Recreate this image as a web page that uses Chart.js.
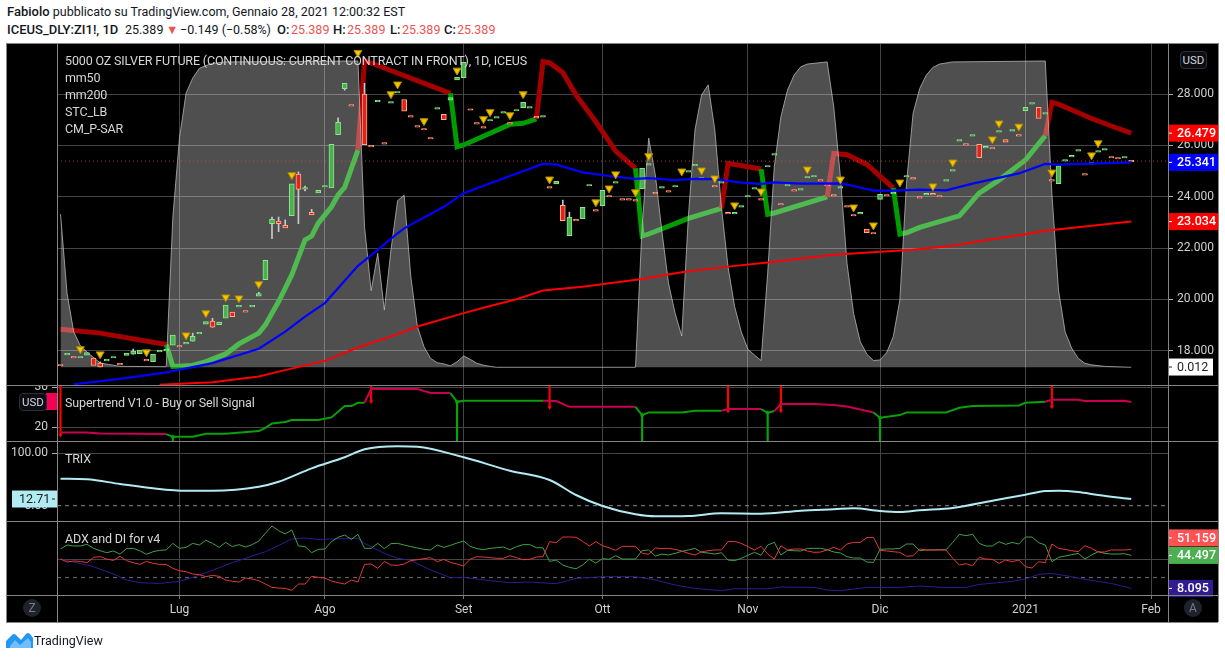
<!DOCTYPE html>
<html>
<head>
<meta charset="utf-8">
<script src="https://cdn.jsdelivr.net/npm/chart.js@4/dist/chart.umd.min.js"></script>
<style>
  html, body { margin: 0; padding: 0; background: #fff; }
  body { width: 1225px; height: 659px; position: relative; overflow: hidden; font-family: Roboto, sans-serif; }
  .abs { position: absolute; white-space: nowrap; }
  .head { font-size: 12.5px; line-height: 18px; color: #131722; }
  .head b { font-weight: 500; font-size: 13px; }
  .dn { color: #ef5350; }
  #frame { left: 6px; top: 43px; width: 1212px; height: 579px; background: #000; }
  canvas { position: absolute; left: 6px; }
  .sep { position: absolute; background: #858585; }
  .leg { font-size: 12.5px; letter-spacing: -0.15px; line-height: 17px; color: #d6d6d6; }
  .btn { font-size: 11.5px; color: #d1d4dc; background: #0b0d12; border: 1px solid #2a2e39; border-radius: 4px; text-align: center; }
  .round { width: 18px; height: 18px; line-height: 18px; border-radius: 9px; background: #1e222d; color: #787b86; font-size: 12px; text-align: center; }
</style>
</head>
<body>
<div class="abs head" style="left:7px;top:3px"><b>Fabiolo</b> pubblicato su TradingView.com, Gennaio 28, 2021 12:00:32 EST</div>
<div class="abs head" style="left:7px;top:21px"><b>ICEUS_DLY:ZI1!, 1D</b></div>
<div class="abs head" style="left:125px;top:21px">25.389</div>
<div class="abs head dn" style="left:166px;top:21px">▼</div>
<div class="abs head" style="left:180px;top:21px">−0.149 (−0.58%)</div>
<div class="abs head" style="left:277px;top:21px"><b>O:</b></div>
<div class="abs head dn" style="left:291px;top:21px">25.389</div>
<div class="abs head" style="left:333px;top:21px"><b>H:</b></div>
<div class="abs head dn" style="left:347px;top:21px">25.389</div>
<div class="abs head" style="left:390px;top:21px"><b>L:</b></div>
<div class="abs head dn" style="left:402px;top:21px">25.389</div>
<div class="abs head" style="left:444px;top:21px"><b>C:</b></div>
<div class="abs head dn" style="left:457px;top:21px">25.389</div>
<div class="abs" id="frame"></div>

<canvas id="mainPane" width="1212" height="341" style="top:44px"></canvas>
<canvas id="stPane" width="1212" height="56" style="top:385px"></canvas>
<canvas id="trixPane" width="1212" height="80" style="top:441px"></canvas>
<canvas id="adxPane" width="1212" height="101" style="top:521px"></canvas>

<div class="sep" style="left:6px;top:43px;width:1212px;height:1px"></div>
<div class="sep" style="left:6px;top:385px;width:1212px;height:1px"></div>
<div class="sep" style="left:6px;top:441px;width:1212px;height:1px"></div>
<div class="sep" style="left:6px;top:521px;width:1212px;height:1px"></div>
<div class="sep" style="left:6px;top:595px;width:1212px;height:1px"></div>
<div class="sep" style="left:6px;top:622px;width:1212px;height:1px"></div>
<div class="sep" style="left:6px;top:43px;width:1px;height:579px"></div>
<div class="sep" style="left:57px;top:43px;width:1px;height:579px"></div>
<div class="sep" style="left:1168px;top:43px;width:1px;height:579px"></div>
<div class="sep" style="left:1218px;top:43px;width:1px;height:579px"></div>

<div class="abs leg" style="left:65px;top:52px">5000 OZ SILVER FUTURE (CONTINUOUS: CURRENT CONTRACT IN FRONT), 1D, ICEUS</div>
<div class="abs leg" style="left:65px;top:69px">mm50</div>
<div class="abs leg" style="left:65px;top:86px">mm200</div>
<div class="abs leg" style="left:65px;top:103px">STC_LB</div>
<div class="abs leg" style="left:65px;top:120px">CM_P-SAR</div>
<div class="abs leg" style="left:65px;top:394px">Supertrend V1.0 - Buy or Sell Signal</div>
<div class="abs leg" style="left:65px;top:450px">TRIX</div>
<div class="abs leg" style="left:65px;top:530px">ADX and DI for v4</div>

<div class="abs btn" style="left:1180px;top:51px;width:25px;height:16px;line-height:16px">USD</div>
<div class="abs" style="left:46px;top:393px;width:11px;height:17px;background:#f50057"></div>
<div class="abs btn" style="left:19px;top:393px;width:26px;height:16px;line-height:16px">USD</div>
<div class="abs round" style="left:23px;top:599px">Z</div>
<div class="abs round" style="left:1184px;top:599px">A</div>

<svg class="abs" style="left:6px;top:632px" width="27" height="16" viewBox="0 0 27 16">
  <path d="M0 9 L6 3 Q8 1 10 3 L15 8 L20 2 Q22 0 24 2 L27 6 L27 16 L0 16 Z" fill="#2196f3"/>
  <path d="M4 14 L9 8 L14 13 L22 6 L25 10 L25 16 L4 16 Z" fill="#90caf9" opacity="0.75"/>
</svg>
<div class="abs" style="left:34px;top:632px;font-size:12.5px;line-height:18px;color:#131722">TradingView</div>

<script>
// x positions are bar numbers, 0 = first session on the chart
const monthBars = [18, 40, 61, 82, 104, 124, 146, 165];
const monthLabels = ["Lug", "Ago", "Set", "Ott", "Nov", "Dic", "2021", "Feb"];
const paneEdges = [-0.53, 167.57];

const priceTicks = [18, 20, 22, 24, 26, 28];
const stTicks = [20, 30];
const trixTicks = [0, 100];
const adxTicks = [40];

const lastPrice = 25.389;

// candles, null where nothing shows on the picture
const candleOpen = [
  17.47, 17.84, 17.78, 17.72, 17.83, 17.72, 17.52, 17.61, 17.72, 17.51,
  17.82, 17.87, 17.89, 17.67, 17.58, 17.96, 18.00, 18.22, 18.21, 18.27,
  18.38, 18.66, 19.04, 19.16, 19.02, 19.27, 19.51, 19.71, 19.57, 19.71,
  20.13, 20.77, 22.95, 23.05, 22.89, 23.26, 24.88, 24.30, 23.39, 24.15,
  24.38, 24.35, 26.42, 28.21, 27.59, null, 28.00, 26.00, 27.70, 26.11,
  27.65, 28.04, 27.79, 27.16, 26.77, 26.66, 26.31, 27.41, 27.21, 27.76,
  28.55, 28.64, 27.43, 26.89, 26.73, 26.95, 27.06, 27.26, 26.89, 27.34,
  27.47, 27.45, 27.13, 27.10, 24.40, 24.50, 23.67, 22.49, 23.12, 23.15,
  24.42, 23.50, 23.65, 24.05, 24.53, 23.93, 23.93, 23.89, 24.31, 25.23,
  24.17, 24.34, 24.24, 24.38, null, 24.96, 25.20, 24.69, null, 24.44,
  24.53, 23.39, 23.33, 23.60, 23.99, 24.30, 23.93, 25.16, 25.62, 23.74,
  24.42, 24.28, 24.26, 24.73, 24.77, 24.67, 24.48, 24.09, 24.34, 23.66,
  23.31, 23.33, 22.74, 22.61, 23.90, 24.09, 24.11, null, 24.77, 24.75,
  24.01, 24.07, 24.13, 24.05, 24.61, 25.00, 26.17, 26.07, 26.36, 26.04,
  25.90, 25.92, 26.52, 26.23, 26.56, 26.42, 27.35, 27.61, 27.48, 27.22,
  24.67, 24.51, 25.39, 25.55, 25.78, 24.90, 25.27, 25.74, 25.82, 25.57,
  25.53, 25.51, 25.42
];
const candleClose = [
  17.41, 17.90, 17.72, 17.78, 17.93, 17.43, 17.37, 17.67, 17.78, 17.45,
  17.91, 17.99, 18.03, 17.61, 17.87, 18.02, 18.06, 18.61, 18.15, 18.33,
  18.57, 18.72, 19.14, 18.92, 19.12, 19.78, 19.33, 19.77, 19.51, 19.77,
  20.23, 21.53, 23.12, 22.95, 22.79, 24.50, 24.29, 24.36, 23.29, 24.25,
  24.44, 26.04, 26.90, 28.42, 27.53, null, 26.03, 25.94, 27.76, 26.05,
  27.71, 28.10, 27.33, 27.10, 26.71, 26.60, 26.25, 27.47, 27.00, 27.86,
  28.65, 29.24, 27.37, 26.83, 26.67, 27.01, 27.12, 27.32, 26.83, 27.40,
  27.68, 27.51, 27.07, 27.16, 24.34, 24.60, 23.07, 23.20, 23.06, 23.59,
  24.48, 23.44, 24.25, 23.99, 24.59, 23.87, 23.87, 23.83, 25.11, 25.29,
  24.11, 24.40, 24.18, 24.44, null, 25.02, 25.26, 24.75, null, 24.38,
  24.59, 23.33, 23.39, 23.66, 24.05, 24.36, 23.87, 25.22, 25.68, 23.68,
  24.48, 24.22, 24.32, 24.79, 24.83, 24.61, 24.42, 24.03, 24.40, 23.60,
  23.25, 23.39, 22.60, 22.55, 24.10, 24.03, 24.17, null, 24.83, 24.69,
  23.95, 24.13, 24.07, 23.99, 24.67, 25.06, 26.23, 26.01, 26.42, 25.52,
  25.96, 25.86, 26.58, 26.13, 26.62, 26.36, 27.48, 27.67, 27.05, 27.28,
  24.61, 25.21, 25.45, 25.61, 25.84, 24.84, 25.33, 25.80, 25.88, 25.51,
  25.47, 25.57, 25.36
];
const wickBars = [6, 11, 20, 23, 30, 32, 33, 34, 36, 37, 38, 42, 43, 46, 76, 77];
const wickLow = [17.37, 17.87, 18.38, 18.92, 20.18, 22.37, 22.64, 22.84, 22.95, 24.23, 23.34, 26.90, 28.15, 28.00, 23.67, 23.20];
const wickHigh = [17.57, 18.07, 18.69, 19.27, 20.28, 23.21, 23.21, 23.10, 24.97, 24.42, 23.51, 27.07, 28.21, 28.42, 23.87, 23.40];

// CM_P-SAR style yellow markers
const sarBars = [3, 6, 13, 19, 22, 25, 27, 30, 35, 45, 50, 51, 55, 60, 64, 65, 68, 70, 74, 81, 83, 84, 87, 89, 94, 97, 99, 102, 106, 113, 118, 120, 123, 127, 132, 135, 141, 142, 145, 150, 156, 157];
const sarValues = [18.07, 17.87, 17.95, 18.61, 19.47, 20.09, 20.05, 20.60, 24.85, 29.61, 28.00, 28.38, 26.95, 28.92, 27.03, 27.30, 27.18, 28.00, 24.68, 23.79, 24.33, 24.88, 24.18, 25.59, 24.99, 25.03, 24.72, 23.67, 24.21, 25.07, 24.68, 23.59, 22.89, 24.56, 24.41, 25.34, 26.24, 26.86, 26.74, 24.95, 25.62, 26.09];

const mm50Bars = [2, 9, 16, 23, 30, 34, 37, 40, 45, 48, 51, 52, 58, 61, 68, 73, 75, 79, 83, 87, 89, 93, 96, 99, 103, 106, 108, 112, 118, 120, 123, 126, 130, 134, 138, 145, 149, 151, 157, 162];
const mm50Values = [16.70, 16.91, 17.16, 17.52, 18.08, 18.75, 19.33, 19.86, 21.31, 21.93, 22.58, 22.77, 23.61, 24.14, 24.81, 25.28, 25.25, 24.95, 24.81, 24.70, 24.73, 24.65, 24.70, 24.69, 24.55, 24.50, 24.56, 24.51, 24.52, 24.42, 24.24, 24.24, 24.28, 24.25, 24.51, 24.91, 25.28, 25.25, 25.30, 25.341];

const mm200Bars = [15, 23, 30, 33, 40, 45, 51, 54, 61, 65, 69, 73, 79, 88, 94, 101, 107, 117, 124, 129, 135, 139, 146, 149, 155, 162];
const mm200Values = [16.68, 16.78, 17.00, 17.19, 17.61, 18.13, 18.65, 18.95, 19.47, 19.75, 20.01, 20.35, 20.50, 20.80, 21.06, 21.28, 21.44, 21.74, 21.86, 21.94, 22.09, 22.27, 22.54, 22.68, 22.84, 23.034];

// thick STC_LB trend line, it flips colour at these bars
const lbBars = [0, 6, 16, 17, 20, 22, 25, 27, 30, 31, 33, 35, 37, 38, 39, 41, 42, 43, 45, 46, 47, 59, 60, 61, 68, 70, 72, 73, 74, 76, 78, 81, 84, 87, 88, 89, 95, 100, 101, 106, 107, 108, 116, 117, 119, 122, 126, 127, 128, 130, 136, 139, 142, 146, 149, 150, 151, 156, 160, 162];
const lbValues = [18.84, 18.69, 18.25, 17.39, 17.43, 17.58, 17.88, 18.27, 18.69, 19.01, 19.92, 20.96, 22.32, 22.47, 22.97, 23.61, 24.07, 24.37, 25.82, 29.30, 29.21, 28.03, 25.95, 26.02, 26.82, 26.86, 27.03, 29.26, 29.22, 28.84, 27.96, 26.92, 25.78, 25.11, 22.47, 22.55, 23.16, 23.55, 25.30, 25.08, 23.32, 23.37, 24.00, 25.69, 25.64, 25.26, 24.35, 22.55, 22.60, 22.81, 23.26, 24.14, 24.65, 25.43, 26.38, 27.68, 27.61, 27.05, 26.66, 26.479];
const lbGreenFrom = [16, 59, 87, 106, 126];
const lbRedFrom = [0, 45, 72, 100, 116, 149];

// grey oscillator area on its own hidden 0-100 scale
const stcBars = [0, 1, 2, 3, 4, 6, 9, 16, 17, 18, 19, 20, 21, 22, 23, 25, 45, 46, 47, 48, 49, 50, 51, 52, 53, 54, 55, 56, 57, 58, 59, 60, 61, 62, 63, 64, 65, 66, 87, 88, 89, 90, 91, 92, 93, 94, 95, 96, 97, 98, 99, 100, 101, 102, 103, 104, 105, 106, 107, 108, 109, 110, 111, 112, 113, 116, 117, 118, 119, 120, 121, 122, 123, 124, 125, 126, 127, 128, 129, 130, 131, 132, 133, 135, 149, 150, 151, 152, 153, 154, 155, 156, 158, 162];
const stcValues = [50, 24, 11.6, 7, 5, 1.4, 0.3, 0.2, 49, 74.8, 89.5, 94.4, 97.6, 98.5, 99.2, 99.7, 100, 45.9, 25, 37.2, 18.7, 38.3, 54.4, 56.2, 29.6, 13.3, 6.7, 2.9, 1.5, 1.1, 0.5, 1.8, 3.7, 2.6, 1.3, 0.7, 0.3, 0, 0, 45.9, 74.8, 62.8, 44.3, 27.4, 17.6, 10.2, 49.2, 77.5, 88.9, 92.2, 77.5, 52.4, 32.8, 19.8, 11.6, 5.9, 4, 2.2, 30.7, 65.5, 81.8, 90.5, 95.4, 98.1, 99, 99.7, 85, 62.2, 34, 17.6, 8.4, 4.3, 2.2, 2.4, 4.8, 10, 22, 60, 82.9, 91, 95.4, 97.9, 99, 99.7, 100, 56.8, 25.2, 11.6, 6.2, 2.9, 1.3, 0.8, 0.3, 0];

const stBars = [0, 4, 6, 16, 17, 20, 22, 25, 30, 31, 32, 34, 35, 39, 41, 43, 44, 45, 46, 47, 51, 54, 56, 59, 60, 61, 73, 75, 77, 87, 88, 89, 94, 96, 100, 101, 106, 107, 108, 109, 114, 117, 119, 121, 123, 124, 127, 128, 134, 136, 138, 145, 146, 149, 150, 154, 155, 161, 162];
const stValues = [18.75, 18.75, 18.50, 18.33, 17.65, 17.65, 18.40, 18.40, 19.08, 19.90, 21.00, 21.33, 21.83, 21.83, 22.50, 25.33, 25.33, 26.15, 26.15, 29.58, 29.58, 29.58, 28.58, 28.58, 26.40, 26.65, 26.65, 26.58, 25.15, 25.15, 23.08, 23.75, 23.75, 24.15, 24.15, 24.58, 24.58, 23.65, 24.08, 25.83, 25.83, 25.58, 25.25, 24.50, 23.75, 22.40, 23.08, 23.75, 23.75, 24.90, 25.33, 25.50, 26.15, 26.40, 26.90, 26.90, 26.58, 26.65, 26.33];
const stGreenFrom = [16, 59, 87, 106, 123];
const stRedFrom = [0, 46, 73, 100, 108, 149];
const stBuyBars = [17, 60, 88, 107, 124];
const stBuyLevels = [17.65, 26.40, 23.08, 23.65, 22.40];
const stSellBars = [0, 47, 74, 101, 109, 150];
const stSellLevels = [18.08, 26.40, 25.00, 24.08, 24.08, 25.15];

const trixBars = [0, 4, 9, 14, 19, 23, 30, 33, 38, 43, 46, 51, 54, 61, 68, 74, 78, 82, 87, 90, 95, 100, 106, 112, 117, 120, 124, 127, 130, 135, 141, 146, 149, 151, 154, 157, 162];
const trixValues = [51.5, 50.4, 41.4, 33.2, 28.6, 28.6, 36.2, 45.8, 71.3, 92.3, 107.6, 113.5, 112.5, 92.3, 66.8, 49, 20.4, -0.6, -16.4, -20.2, -19.6, -14.5, -15.3, -9.5, -6.7, -5, -10.1, -12, -8.8, -4.4, 9.5, 21, 28, 28.6, 26.1, 20.4, 12.71];

const diPlus = [
  51.6, 56, 54.9, 54.9, 56.7, 52.3, 49.7, 47.5, 49.4, 46,
  52, 52.3, 49.7, 45.7, 48.6, 50.1, 50.5, 57.8, 52.3, 53.4,
  57.8, 56, 61.2, 57.8, 53.4, 58.9, 54.2, 56.4, 53.8, 56.4,
  60.4, 68.9, 77, 71.8, 68.2, 72.6, 54.9, 54.2, 47.5, 51.2,
  51.6, 59.7, 64.5, 67, 62.2, 67.8, 52.3, 52.3, 57.8, 52,
  57.5, 57.8, 56, 54.2, 52.7, 51.2, 50.5, 56, 53.4, 55.6,
  58.2, 60.4, 54.5, 52, 50.8, 52.3, 53, 53.8, 50.8, 54.2,
  56.4, 56.4, 53, 53, 37.9, 39.4, 33.9, 31.3, 29.8, 33.9,
  40.2, 36.1, 40.9, 40.2, 44.2, 40.5, 40.5, 40.5, 49.7, 50.5,
  43.8, 46, 45, 46.8, 49, 50.5, 52.3, 47.9, 47.2, 46,
  47.5, 39.4, 38.7, 41.3, 44.6, 47.9, 44.6, 56, 58.9, 45,
  50.1, 49.7, 49.4, 52.3, 52.3, 52.3, 50.8, 48.3, 47.2, 43.1,
  41.6, 41.6, 37.2, 36.8, 51.2, 51.6, 51.6, 52.3, 57.1, 57.1,
  49.7, 50.5, 50.5, 50.8, 50.8, 58.9, 67.8, 66.3, 67.8, 57.8,
  54.9, 54.9, 59.7, 56.7, 58.9, 57.1, 64.8, 64.8, 58.6, 56,
  37.6, 42.4, 43.8, 45.3, 46.8, 40.5, 45, 48.6, 46.8, 46,
  46, 46.4, 44.497
];
const diMinus = [
  40.5, 37.2, 38.3, 37.9, 36.5, 42.4, 43.1, 40.5, 39, 43.5,
  38.7, 36.5, 34.6, 37.9, 35.7, 34.6, 34.6, 30.2, 27.6, 26.5,
  24, 23.2, 21, 22.5, 21.4, 17.3, 15.9, 15.1, 19.5, 18.4,
  16.6, 12.9, 9.2, 8.5, 8.1, 5.9, 12.9, 12.9, 21.4, 20.3,
  19.5, 16.2, 14.4, 12.9, 17.3, 15.1, 34.6, 35, 30.2, 37.9,
  33.9, 33.5, 35, 38.7, 39.8, 40.9, 42, 37.6, 40.2, 36.8,
  35, 32.8, 40.5, 43.1, 42.7, 42, 41.3, 41.3, 44.2, 42,
  39.8, 40.2, 42.7, 43.1, 59.7, 58.6, 64.8, 64.8, 64.5, 60,
  54.9, 59.7, 55.2, 53, 50.1, 54.5, 54.5, 54.5, 46.8, 45.7,
  52.7, 52, 52.3, 51.2, 49.4, 46.8, 45, 48.6, 49.7, 50.5,
  50.5, 59.7, 60, 57.8, 54.2, 50.5, 54.5, 46, 40.5, 55.2,
  50.5, 51.6, 51.6, 49.4, 47.9, 48.2, 50.5, 53.4, 50.5, 57.1,
  58.9, 58.9, 64.1, 64.5, 50.1, 49.4, 48.6, 47.9, 43.5, 44.2,
  51.6, 50.5, 50.5, 50.5, 50.5, 41.3, 33.9, 35.4, 33.2, 42.4,
  40.5, 40.2, 35.7, 39.4, 37.6, 39.4, 32, 30.6, 37.6, 36.5,
  57.1, 52.3, 51.2, 49.7, 48.6, 55.2, 52.3, 48.3, 48.3, 50.5,
  50.5, 50.5, 51.159
];
const adxBars = [0, 4, 5, 8, 10, 12, 15, 18, 20, 22, 26, 31, 34, 35, 37, 39, 45, 46, 49, 51, 53, 56, 59, 61, 65, 68, 71, 75, 78, 82, 87, 90, 93, 96, 100, 102, 107, 109, 114, 116, 118, 122, 127, 130, 134, 137, 139, 144, 146, 148, 150, 153, 155, 159, 162];
const adxValues = [40.5, 33.9, 32, 24, 17.3, 14.4, 13.6, 15.9, 20.3, 25.4, 36.5, 48.6, 59, 62.6, 63.7, 62.2, 63.4, 57.8, 46.8, 41.3, 39, 28.4, 19.9, 20.3, 16.6, 14.4, 15.1, 13.3, 19.2, 21, 21, 17.3, 11.8, 8.1, 5.5, 7.7, 7.7, 9.6, 9.2, 6.3, 5.5, 9.2, 9.2, 10.7, 8.9, 9.2, 12.5, 15.9, 18.4, 23.6, 24.7, 21, 18.1, 13.6, 8.095];
const adxLevel = 20;

const axisFont = { family: "Roboto, sans-serif", size: 12 };
const gridColor = "#444444";
const axisText = "#d0d0d0";

function pts(xs, ys) {
  return xs.map((x, i) => ({ x, y: ys[i] }));
}

function hline(value, color, dash, order) {
  return {
    type: "line",
    data: paneEdges.map((x) => ({ x, y: value })),
    borderColor: color,
    borderWidth: 1,
    borderDash: dash,
    pointRadius: 0,
    order,
  };
}

function thinLine(xs, ys, color, width, order) {
  return {
    type: "line",
    data: pts(xs, ys),
    borderColor: color,
    borderWidth: width,
    pointRadius: 0,
    tension: 0,
    order,
  };
}

function flipColor(bar, greenFrom, redFrom, green, red) {
  const g = Math.max(-1, ...greenFrom.filter((b) => b <= bar));
  const r = Math.max(-1, ...redFrom.filter((b) => b <= bar));
  return g > r ? green : red;
}

// coloured value tags on the price axes
const tagPlugin = {
  id: "valueTags",
  afterDraw(chart, _args, opts) {
    const { ctx } = chart;
    const scale = chart.scales[opts.scale || "y"];
    (opts.tags || []).forEach((t) => {
      const y = scale.getPixelForValue(t.value) + (t.dy || 0);
      ctx.save();
      ctx.fillStyle = t.bg;
      ctx.fillRect(t.x, y - 8.5, t.w, 17);
      ctx.fillStyle = t.fg;
      ctx.fillRect(t.side === "left" ? t.x + t.w - 5 : t.x + 1, y - 0.5, 3, 1);
      ctx.font = (t.bold ? "500 " : "") + "12.5px Roboto, sans-serif";
      ctx.textBaseline = "middle";
      ctx.textAlign = "left";
      ctx.fillText(t.text, t.x + (t.side === "left" ? 7 : 9), y + 0.5);
      ctx.restore();
    });
  },
};

function pane(id, datasets, yScales, showMonths, tags) {
  const leftGap = 51;
  const rightGap = 50;
  const side = yScales.y.position;
  const xScale = {
    type: "linear",
    min: paneEdges[0],
    max: paneEdges[1],
    offset: false,
    border: { display: false },
    grid: {
      offset: false,
      color: gridColor,
      lineWidth: 1,
      drawTicks: showMonths,
      tickLength: 4,
      tickColor: "#777",
    },
    ticks: {
      display: showMonths,
      autoSkip: false,
      maxRotation: 0,
      color: axisText,
      font: axisFont,
      padding: 4,
      callback: (v) => monthLabels[monthBars.indexOf(v)],
    },
    afterBuildTicks: (s) => {
      s.ticks = monthBars.map((value) => ({ value }));
    },
    afterFit: (s) => {
      s.height = showMonths ? 27 : 0;
      s.paddingLeft = s.paddingRight = 0;
    },
  };
  return new Chart(document.getElementById(id), {
    type: "bar",
    data: { datasets },
    options: {
      responsive: false,
      animation: false,
      events: [],
      layout: {
        autoPadding: false,
        padding: { left: side === "right" ? leftGap : 0, right: side === "right" ? 0 : rightGap, top: 0, bottom: 0 },
      },
      plugins: { legend: { display: false }, tooltip: { enabled: false }, valueTags: { scale: "y", tags } },
      scales: { x: xScale, ...yScales },
    },
    plugins: [tagPlugin],
  });
}

function valueAxis(position, min, max, ticks, digits, hideZeroGrid) {
  return {
    type: "linear",
    position,
    min,
    max,
    border: { display: false },
    grid: {
      color: (c) => (hideZeroGrid && c.tick && c.tick.value === 0 ? "transparent" : gridColor),
      tickColor: digits === null ? "transparent" : "#aaa",
      tickLength: 5,
    },
    ticks: {
      color: axisText,
      font: axisFont,
      padding: 4,
      display: digits !== null,
      autoSkip: false,
      callback: (v) => (digits === null ? "" : v.toFixed(digits)),
    },
    afterBuildTicks: (s) => {
      s.ticks = ticks.map((value) => ({ value }));
    },
    afterFit: (s) => {
      s.width = position === "left" ? 51 : 50;
      s.paddingTop = s.paddingBottom = 0;
    },
  };
}

// price pane
const candleData = candleClose
  .map((c, i) => (c === null ? null : { x: i, y: [candleOpen[i], c] }))
  .filter(Boolean);

pane(
  "mainPane",
  [
    {
      // the thick line sits under the translucent area, that is what lightens it there
      type: "line",
      data: pts(lbBars, lbValues),
      borderWidth: 5,
      borderColor: "#a50000",
      borderCapStyle: "butt",
      pointRadius: 0,
      segment: {
        borderColor: (c) => flipColor(c.p0.parsed.x, lbGreenFrom, lbRedFrom, "#009c00", "#a50000"),
      },
      order: 25,
    },
    {
      type: "line",
      yAxisID: "stc",
      data: pts(stcBars, stcValues),
      borderColor: "rgba(190,190,190,0.75)",
      borderWidth: 1,
      backgroundColor: "rgba(255,255,255,0.31)",
      fill: "origin",
      pointRadius: 0,
      order: 20,
    },
    hline(lastPrice, "rgba(240,70,70,0.8)", [1, 3], 15),
    {
      data: wickBars.map((x, i) => ({ x, y: [wickLow[i], wickHigh[i]] })),
      backgroundColor: "#c8c8c8",
      borderWidth: 0,
      barThickness: 1,
      grouped: false,
      order: 14,
    },
    {
      data: candleData,
      backgroundColor: (c) => {
        const r = c.raw;
        if (!r) return "#4caf50";
        return r.y[1] >= r.y[0] ? "#4caf50" : "#e3231b";
      },
      borderColor: (c) => {
        const r = c.raw;
        if (!r) return "#8be88b";
        return r.y[1] >= r.y[0] ? "#8be88b" : "#ffb08a";
      },
      borderWidth: 1,
      borderSkipped: false,
      barThickness: 5,
      grouped: false,
      order: 13,
    },
    thinLine(mm200Bars, mm200Values, "#ff0000", 2, 6),
    thinLine(mm50Bars, mm50Values, "#0000ff", 2.2, 4),
    {
      type: "scatter",
      data: pts(sarBars, sarValues),
      pointStyle: "triangle",
      rotation: 180,
      radius: 4.6,
      backgroundColor: "#f6c400",
      borderColor: "#a98a00",
      borderWidth: 1,
      showLine: false,
      order: 2,
    },
  ],
  {
    y: valueAxis("right", 16.67, 29.95, priceTicks, 3, false),
    stc: {
      type: "linear",
      display: false,
      min: -5.78,
      max: 105.55,
    },
  },
  false,
  [
    { value: 26.479, text: "26.479", bg: "#ff0000", fg: "#fff", x: 1162, w: 50, bold: true },
    { value: 25.341, text: "25.341", bg: "#0000ff", fg: "#fff", x: 1162, w: 50, bold: true },
    { value: 23.034, text: "23.034", bg: "#ff0000", fg: "#fff", x: 1162, w: 50, bold: true },
    { value: 17.37, text: "0.012", bg: "#ffffff", fg: "#222", x: 1162, w: 45 },
  ]
);

// supertrend pane
pane(
  "stPane",
  [
    {
      data: stBuyBars.map((x, i) => ({ x, y: [15, stBuyLevels[i]] })),
      backgroundColor: "#00a800",
      borderWidth: 0,
      barThickness: 1.5,
      grouped: false,
      order: 8,
    },
    {
      data: stSellBars.map((x, i) => ({ x, y: [stSellLevels[i], 32] })),
      backgroundColor: "#ff0000",
      borderWidth: 0,
      barThickness: 1.5,
      grouped: false,
      order: 8,
    },
    {
      type: "scatter",
      data: pts(stBuyBars, stBuyLevels),
      pointStyle: "triangle",
      radius: 2.5,
      backgroundColor: "#00a800",
      borderWidth: 0,
      order: 7,
    },
    {
      type: "scatter",
      data: pts(stSellBars, stSellLevels),
      pointStyle: "triangle",
      rotation: 180,
      radius: 2.5,
      backgroundColor: "#ff0000",
      borderWidth: 0,
      order: 7,
    },
    {
      type: "line",
      data: pts(stBars, stValues),
      borderWidth: 2,
      borderColor: "#c8004f",
      pointRadius: 0,
      segment: {
        borderColor: (c) => flipColor(c.p0.parsed.x, stGreenFrom, stRedFrom, "#0aa00a", "#c8004f"),
      },
      order: 5,
    },
  ],
  { y: valueAxis("left", 16.6, 30.6, stTicks, 0, false) },
  false,
  []
);

// TRIX pane
pane(
  "trixPane",
  [
    hline(0, "#8c8c8c", [4, 4], 9),
    {
      type: "line",
      data: pts(trixBars, trixValues),
      borderColor: "#b2ebf2",
      borderWidth: 2,
      pointRadius: 0,
      cubicInterpolationMode: "monotone",
      order: 5,
    },
  ],
  { y: valueAxis("left", -29.2, 123.4, trixTicks, 2, true) },
  false,
  [{ value: 12.71, text: "12.71", bg: "#b2ebf2", fg: "#222", x: 6, w: 45, side: "left" }]
);

// ADX pane, the only one that shows the month labels
pane(
  "adxPane",
  [
    hline(adxLevel, "#6e6e6e", [4, 4], 9),
    thinLine(diPlus.map((_, i) => i), diPlus, "#43a047", 1, 6),
    thinLine(diMinus.map((_, i) => i), diMinus, "#e53935", 1, 5),
    thinLine(adxBars, adxValues, "#311b92", 1, 7),
  ],
  { y: valueAxis("left", 0.8, 82.5, adxTicks, null, false) },
  true,
  [
    { value: 51.159, text: "51.159", bg: "#ff5252", fg: "#fff", x: 1162, w: 50, dy: -11.5, bold: true },
    { value: 44.497, text: "44.497", bg: "#4caf50", fg: "#fff", x: 1162, w: 50, bold: true },
    { value: 8.095, text: "8.095", bg: "#311b92", fg: "#fff", x: 1162, w: 45, bold: true },
  ]
);
</script>
</body>
</html>
